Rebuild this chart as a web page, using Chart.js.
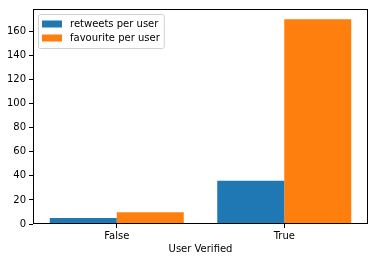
<!DOCTYPE html>
<html><head><meta charset="utf-8">
<script src="https://cdn.jsdelivr.net/npm/chart.js@4/dist/chart.umd.min.js"></script>
<style>html,body{margin:0;padding:0;background:#fff}canvas{display:block}</style>
</head><body>
<canvas id="c" width="375" height="262"></canvas>
<script>
const categories = ["False", "True"];
const retweetsPerUser = [4.9, 36.0];
const favouritePerUser = [9.8, 169.9];
const seriesNames = ["retweets per user", "favourite per user"];
const yTicks = [0, 20, 40, 60, 80, 100, 120, 140, 160];
const xTitle = "User Verified";

const FONT = "'DejaVu Sans', sans-serif";
const boxPlugin = {
  id: 'box',
  afterDraw(chart) {
    const a = chart.chartArea, ctx = chart.ctx;
    ctx.save();
    ctx.strokeStyle = '#000';
    ctx.lineWidth = 1;
    ctx.strokeRect(Math.round(a.left) + 0.5, Math.round(a.top) + 0.5, Math.round(a.right - a.left) - 1, Math.round(a.bottom - a.top) - 1);
    // legend
    const x0 = a.left + 5, y0 = a.top + 5;
    ctx.font = "10px " + FONT;
    let w = 0;
    chart.data.datasets.forEach(d => { w = Math.max(w, ctx.measureText(d.label).width); });
    const bw = 32 + w + 4, bh = 34;
    ctx.fillStyle = 'rgba(255,255,255,0.8)';
    ctx.strokeStyle = '#d0d0d0';
    ctx.lineWidth = 1;
    ctx.beginPath();
    ctx.roundRect(x0 + 0.5, y0 + 0.5, bw, bh, 2);
    ctx.fill(); ctx.stroke();
    chart.data.datasets.forEach((d, i) => {
      const yy = y0 + 10 + i * 14;
      ctx.fillStyle = d.backgroundColor;
      ctx.fillRect(x0 + 4, yy - 3.5, 20, 7);
      ctx.fillStyle = '#000';
      ctx.textBaseline = 'middle';
      ctx.fillText(d.label, x0 + 32, yy + 0.5);
    });
    ctx.restore();
  }
};

new Chart(document.getElementById('c'), {
  type: 'bar',
  data: {
    labels: categories,
    datasets: [
      { label: seriesNames[0], data: retweetsPerUser, backgroundColor: '#1f77b4', borderWidth: 0 },
      { label: seriesNames[1], data: favouritePerUser, backgroundColor: '#ff7f0e', borderWidth: 0 }
    ]
  },
  options: {
    responsive: false,
    animation: false,
    devicePixelRatio: 1,
    layout: { padding: { top: 6, right: 7, left: 0, bottom: 0 } },
    datasets: { bar: { categoryPercentage: 0.8, barPercentage: 1.0 } },
    plugins: { legend: { display: false }, tooltip: { enabled: false } },
    scales: {
      x: {
        offset: true,
        grid: { drawOnChartArea: false, tickLength: 4, color: '#000', offset: false },
        border: { display: false },
        ticks: { color: '#000', font: { family: FONT, size: 10 }, padding: 2, maxRotation: 0 },
        title: { display: true, text: xTitle, color: '#000', font: { family: FONT, size: 10 }, padding: { top: 0, bottom: 7 } },
        afterFit(s) { s.height = 38; }
      },
      y: {
        min: 0, max: 178.5,
        afterBuildTicks(s) { s.ticks = yTicks.map(v => ({ value: v })); },
        grid: { drawOnChartArea: false, tickLength: 4, color: '#000' },
        border: { display: false },
        ticks: { color: '#000', font: { family: FONT, size: 10 }, padding: 3 },
        afterFit(s) { s.width = 33; }
      }
    }
  },
  plugins: [boxPlugin]
});
</script>
</body></html>
